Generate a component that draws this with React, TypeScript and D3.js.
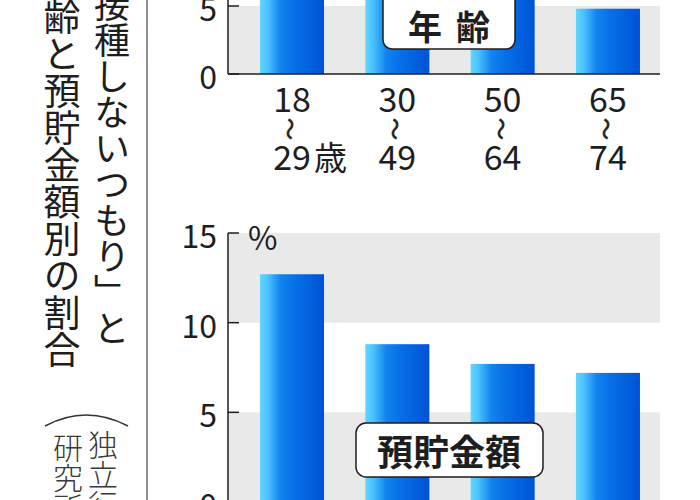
import React from 'react';
import * as d3 from 'd3';

// 年齢別（上段）
const ageFrom = ['18', '30', '50', '65'];
const ageTo = ['29', '49', '64', '74'];
const ageValues = [11.0, 8.4, 6.8, 4.8]; // 上の3本は画像の上端で切れている
const ageTicks = [0, 5];

// 預貯金額別（下段）
const savingsGroups = ['g1', 'g2', 'g3', 'g4'];
const savingsValues = [12.7, 8.8, 7.7, 7.2];
const savingsTicks = [0, 5, 10, 15];

const titleRight = '接種しないつもり」と';
const titleLeft = '齢と預貯金額別の割合';
const sourceRight = '独立行';
const sourceLeft = '研究所';

const FONT = '"Noto Sans CJK JP", "Noto Sans", sans-serif';
const INK = '#1e1e1e';
const BAND = '#e9e9e9';

const W = 700;
const H = 500;
const axisX = 228;
const plotRight = 660;

const App: React.FC = () => {
  const x = d3
    .scaleBand<number>()
    .domain(d3.range(savingsGroups.length))
    .range([axisX, plotRight])
    .paddingInner(0.392)
    .paddingOuter(0.247)
    .align(0.615);

  const yTop = d3.scaleLinear().domain([0, 5]).range([74, 6]);
  const yBot = d3.scaleLinear().domain([0, 15]).range([502, 233]);

  // grey bands: 0-5 and 10-15
  const bands = (y: d3.ScaleLinear<number, number>, pairs: [number, number][]) =>
    pairs.map(([a, b], i) => (
      <rect key={i} x={axisX} width={plotRight - axisX} y={y(b)} height={y(a) - y(b)} fill={BAND} />
    ));

  const ticks = (y: d3.ScaleLinear<number, number>, values: number[]) =>
    values.map((t) => (
      <g key={t}>
        <line x1={axisX} x2={axisX + 11} y1={y(t)} y2={y(t)} stroke={INK} strokeWidth={1.5} />
        <text x={217} y={y(t) + 1} textAnchor="end" dominantBaseline="central" fontSize={32} fill={INK}>
          {t}
        </text>
      </g>
    ));

  const bars = (y: d3.ScaleLinear<number, number>, values: number[]) =>
    values.map((v, i) => (
      <rect key={i} x={x(i)} width={x.bandwidth()} y={y(v)} height={y(0) - y(v)} fill="url(#barGrad)" />
    ));

  return (
    <div style={{ position: 'fixed', left: 0, top: 0 }}>
      <svg width={W} height={H} viewBox={`0 0 ${W} ${H}`} style={{ display: 'block', fontFamily: FONT }}>
        <defs>
          <linearGradient id="barGrad" x1="0" x2="1" y1="0" y2="0">
            <stop offset="0" stopColor="#62d6ff" />
            <stop offset="0.12" stopColor="#4cc2ff" />
            <stop offset="0.32" stopColor="#1284ee" />
            <stop offset="0.55" stopColor="#066fe6" />
            <stop offset="1" stopColor="#0052d6" />
          </linearGradient>
        </defs>
        <rect width={W} height={H} fill="#fff" />

        {/* 見出し（縦書き） */}
        <g fill={INK}>
          <text x={112} y={-14} fontSize={36} style={{ writingMode: 'vertical-rl' }}>
            {titleRight}
          </text>
          <text x={62} y={-2} fontSize={37} style={{ writingMode: 'vertical-rl' }}>
            {titleLeft}
          </text>
        </g>

        {/* 出典 */}
        <path d="M45,426 Q86,404 128,426" fill="none" stroke="#333" strokeWidth={1.5} />
        <g fill="#3a3a3a" fontWeight={300}>
          <text x={103} y={430} fontSize={30} style={{ writingMode: 'vertical-rl' }}>
            {sourceRight}
          </text>
          <text x={68} y={433} fontSize={30} style={{ writingMode: 'vertical-rl' }}>
            {sourceLeft}
          </text>
        </g>

        <line x1={147} x2={147} y1={0} y2={H} stroke="#666" strokeWidth={1.5} />

        {/* 上段：年齢 */}
        {bands(yTop, [[0, 5], [10, 15]])}
        {bars(yTop, ageValues)}
        <line x1={axisX} x2={axisX} y1={-20} y2={yTop(0)} stroke={INK} strokeWidth={1.5} />
        <line x1={axisX} x2={plotRight} y1={yTop(0)} y2={yTop(0)} stroke={INK} strokeWidth={1.5} />
        {ticks(yTop, ageTicks)}
        {ageFrom.map((a, i) => {
          const cx = (x(i) as number) + x.bandwidth() / 2;
          return (
            <g key={a} fill={INK}>
              <text x={cx} y={112} textAnchor="middle" fontSize={34}>
                {a}
              </text>
              <text
                x={cx}
                y={129}
                textAnchor="middle"
                dominantBaseline="central"
                fontSize={22}
                stroke={INK}
                strokeWidth={0.7}
                transform={`rotate(90, ${cx}, 129)`}
              >
                〜
              </text>
              <text x={cx} y={170} textAnchor="middle" fontSize={34}>
                {ageTo[i]}
              </text>
              {i === 0 && (
                <text x={cx + 22} y={170} fontSize={33}>
                  歳
                </text>
              )}
            </g>
          );
        })}
        <rect x={383} y={-8} width={132} height={57} rx={9} fill="#fff" stroke={INK} strokeWidth={1.5} />
        <text x={456} y={25} textAnchor="middle" dominantBaseline="central" fontSize={34} fontWeight="bold" letterSpacing={14} fill={INK}>
          年齢
        </text>

        {/* 下段：預貯金額 */}
        {bands(yBot, [[0, 5], [10, 15]])}
        {bars(yBot, savingsValues)}
        <line x1={axisX} x2={axisX} y1={yBot(15)} y2={H} stroke={INK} strokeWidth={1.5} />
        <line x1={axisX} x2={plotRight} y1={yBot(0)} y2={yBot(0)} stroke={INK} strokeWidth={1.5} />
        {ticks(yBot, savingsTicks)}
        <text x={248} y={236} dominantBaseline="central" fontSize={32} fill={INK}>
          %
        </text>
        <rect x={356} y={423} width={187} height={54} rx={10} fill="#fff" stroke={INK} strokeWidth={1.5} />
        <text x={449} y={450} textAnchor="middle" dominantBaseline="central" fontSize={36} fontWeight="bold" fill={INK}>
          預貯金額
        </text>
      </svg>
    </div>
  );
};

export default App;
